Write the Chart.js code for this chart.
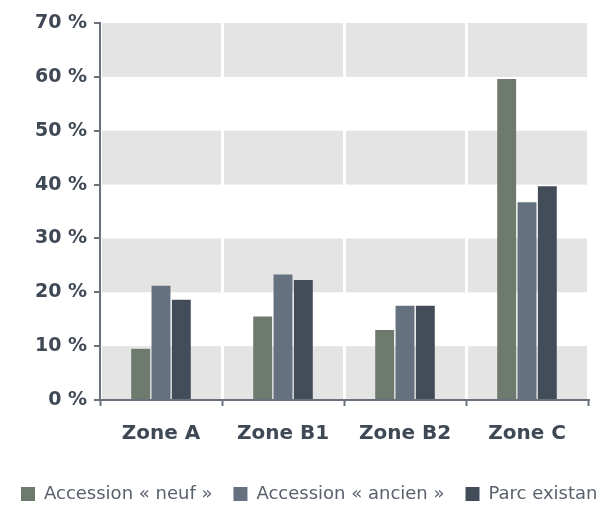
<!DOCTYPE html>
<html>
<head>
<meta charset="utf-8">
<script src="https://cdn.jsdelivr.net/npm/chart.js@4"></script>
<style>
  html, body { margin: 0; padding: 0; background: #fff; overflow: hidden; }
  #wrap { width: 660px; height: 520px; position: relative; }
</style>
</head>
<body>
<div id="wrap"><canvas id="chart"></canvas></div>
<script>
  const zones = ['Zone A', 'Zone B1', 'Zone B2', 'Zone C'];
  const neuf = [9.5, 15.5, 13.0, 59.6];
  const ancien = [21.2, 23.3, 17.5, 36.7];
  const parc = [18.6, 22.3, 17.5, 39.7];
  const yTicks = [0, 10, 20, 30, 40, 50, 60, 70];

  const AXIS = '#6b717b';
  const TEXT = '#3f4855';
  const BAND = '#e3e4e3';

  // grey bands behind every other 10 % step
  const bands = {
    id: 'bands',
    beforeDraw(chart) {
      const { ctx, chartArea: a, scales: { y } } = chart;
      ctx.save();
      ctx.fillStyle = BAND;
      for (let i = 0; i < yTicks.length - 1; i += 2) {
        const top = y.getPixelForValue(yTicks[i + 1]);
        const bot = y.getPixelForValue(yTicks[i]);
        ctx.fillRect(a.left, top, a.right - a.left, bot - top);
      }
      ctx.restore();
    },
  };

  new Chart(document.getElementById('chart'), {
    type: 'bar',
    data: {
      labels: zones,
      datasets: [
        { label: 'Accession « neuf »', data: neuf, backgroundColor: '#6f7a6f' },
        { label: 'Accession « ancien »', data: ancien, backgroundColor: '#667180' },
        { label: 'Parc existant', data: parc, backgroundColor: '#434d5a' },
      ],
    },
    options: {
      responsive: true,
      maintainAspectRatio: false,
      animation: false,
      categoryPercentage: 0.5,
      barPercentage: 0.93,
      layout: { padding: { top: 23, right: 0, bottom: 7, left: 0 } },
      plugins: {
        tooltip: { enabled: false },
        legend: {
          position: 'bottom',
          align: 'start',
          labels: {
            color: '#59616d',
            font: { family: 'DejaVu Sans', size: 18 },
            boxWidth: 14,
            boxHeight: 14,
            padding: 21,
          },
        },
      },
      scales: {
        x: {
          afterFit: (s) => { s.height = 64; },
          grid: {
            offset: true,
            color: '#ffffff',
            lineWidth: 3,
            tickColor: AXIS,
            tickWidth: 2,
            tickLength: 6,
          },
          border: { color: AXIS, width: 2 },
          ticks: {
            color: TEXT,
            padding: 16,
            font: { family: 'DejaVu Sans', size: 20, weight: 'bold' },
          },
        },
        y: {
          min: 0,
          max: 70,
          afterFit: (s) => { s.width = 100; },
          afterBuildTicks: (s) => { s.ticks = yTicks.map((v) => ({ value: v })); },
          grid: {
            drawOnChartArea: false,
            color: AXIS,
            lineWidth: 2,
            tickLength: 6,
          },
          border: { color: AXIS, width: 2 },
          ticks: {
            color: TEXT,
            padding: 7,
            font: { family: 'DejaVu Sans', size: 19, weight: 'bold' },
            callback: (v) => v + '\u00a0%',
          },
        },
        // empty strip on the right so the plot ends where the crop does
        spacer: {
          position: 'right',
          afterFit: (s) => { s.width = 72; },
          grid: { display: false },
          border: { display: false },
          ticks: { display: false },
        },
      },
    },
    plugins: [bands],
  });
</script>
</body>
</html>
